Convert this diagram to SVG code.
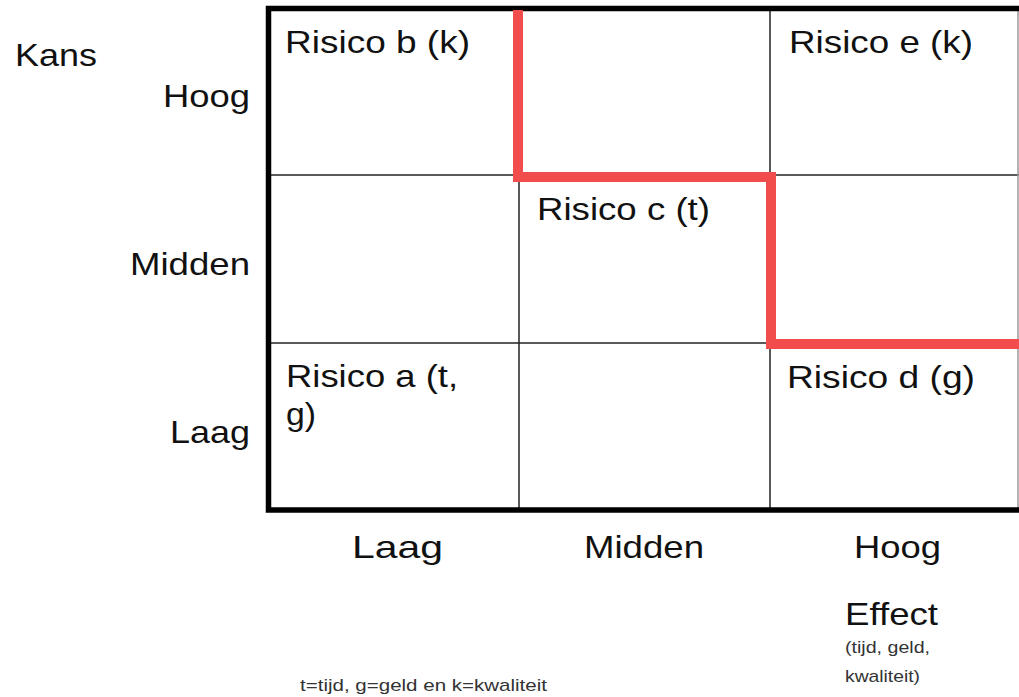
<svg xmlns="http://www.w3.org/2000/svg" width="1019" height="697" viewBox="0 0 1019 697">
<style>
.t{font-family:"Liberation Sans",Arial,sans-serif;font-size:32px;fill:#111}
.s{font-family:"Liberation Sans",Arial,sans-serif;font-size:17px;fill:#333}
.g{stroke:#222;stroke-width:1.5;fill:none}
.b{stroke:#000;stroke-width:5.5;fill:none}
.r{stroke:#f24d4d;stroke-width:10;fill:none;stroke-linejoin:miter}
</style>
<rect width="1019" height="697" fill="#fff"/>
<g id="grid">
<line class="g" x1="268" y1="175" x2="1019" y2="175"/>
<line class="g" x1="268" y1="343" x2="1019" y2="343"/>
<line class="g" x1="519" y1="8" x2="519" y2="510"/>
<line class="g" x1="770" y1="8" x2="770" y2="510"/>
<line x1="1018" y1="8" x2="1018" y2="510" stroke="#999" stroke-width="1.5"/>
<path class="b" d="M1019,8.5 H268.5 V510 H1019"/>
</g>
<g id="connectors">
<path class="r" d="M518,10 V177 H771 V344 H1019"/>
</g>
<g id="axis-kans">
<text class="t" x="15" y="66" textLength="82" lengthAdjust="spacingAndGlyphs">Kans</text>
<text class="t" x="163" y="107" textLength="87" lengthAdjust="spacingAndGlyphs">Hoog</text>
<text class="t" x="130" y="275" textLength="120" lengthAdjust="spacingAndGlyphs">Midden</text>
<text class="t" x="170" y="443" textLength="80" lengthAdjust="spacingAndGlyphs">Laag</text>
</g>
<g id="axis-effect">
<text class="t" x="352" y="558" textLength="91" lengthAdjust="spacingAndGlyphs">Laag</text>
<text class="t" x="584" y="558" textLength="120" lengthAdjust="spacingAndGlyphs">Midden</text>
<text class="t" x="854" y="558" textLength="87" lengthAdjust="spacingAndGlyphs">Hoog</text>
<text class="t" x="845" y="625" textLength="93" lengthAdjust="spacingAndGlyphs">Effect</text>
<text class="s" x="845" y="653" textLength="85" lengthAdjust="spacingAndGlyphs">(tijd, geld,</text>
<text class="s" x="845" y="682" textLength="75" lengthAdjust="spacingAndGlyphs">kwaliteit)</text>
</g>
<g id="risico-b"><text class="t" x="285" y="53" textLength="185" lengthAdjust="spacingAndGlyphs">Risico b (k)</text></g>
<g id="risico-e"><text class="t" x="789" y="53" textLength="184" lengthAdjust="spacingAndGlyphs">Risico e (k)</text></g>
<g id="risico-c"><text class="t" x="537" y="220" textLength="173" lengthAdjust="spacingAndGlyphs">Risico c (t)</text></g>
<g id="risico-a"><text class="t" x="286" y="387" textLength="172" lengthAdjust="spacingAndGlyphs">Risico a (t,</text><text class="t" x="286" y="425" textLength="30" lengthAdjust="spacingAndGlyphs">g)</text></g>
<g id="risico-d"><text class="t" x="787" y="388" textLength="188" lengthAdjust="spacingAndGlyphs">Risico d (g)</text></g>
<g id="legend"><text class="s" x="300" y="691" textLength="247" lengthAdjust="spacingAndGlyphs">t=tijd, g=geld en k=kwaliteit</text></g>
</svg>
